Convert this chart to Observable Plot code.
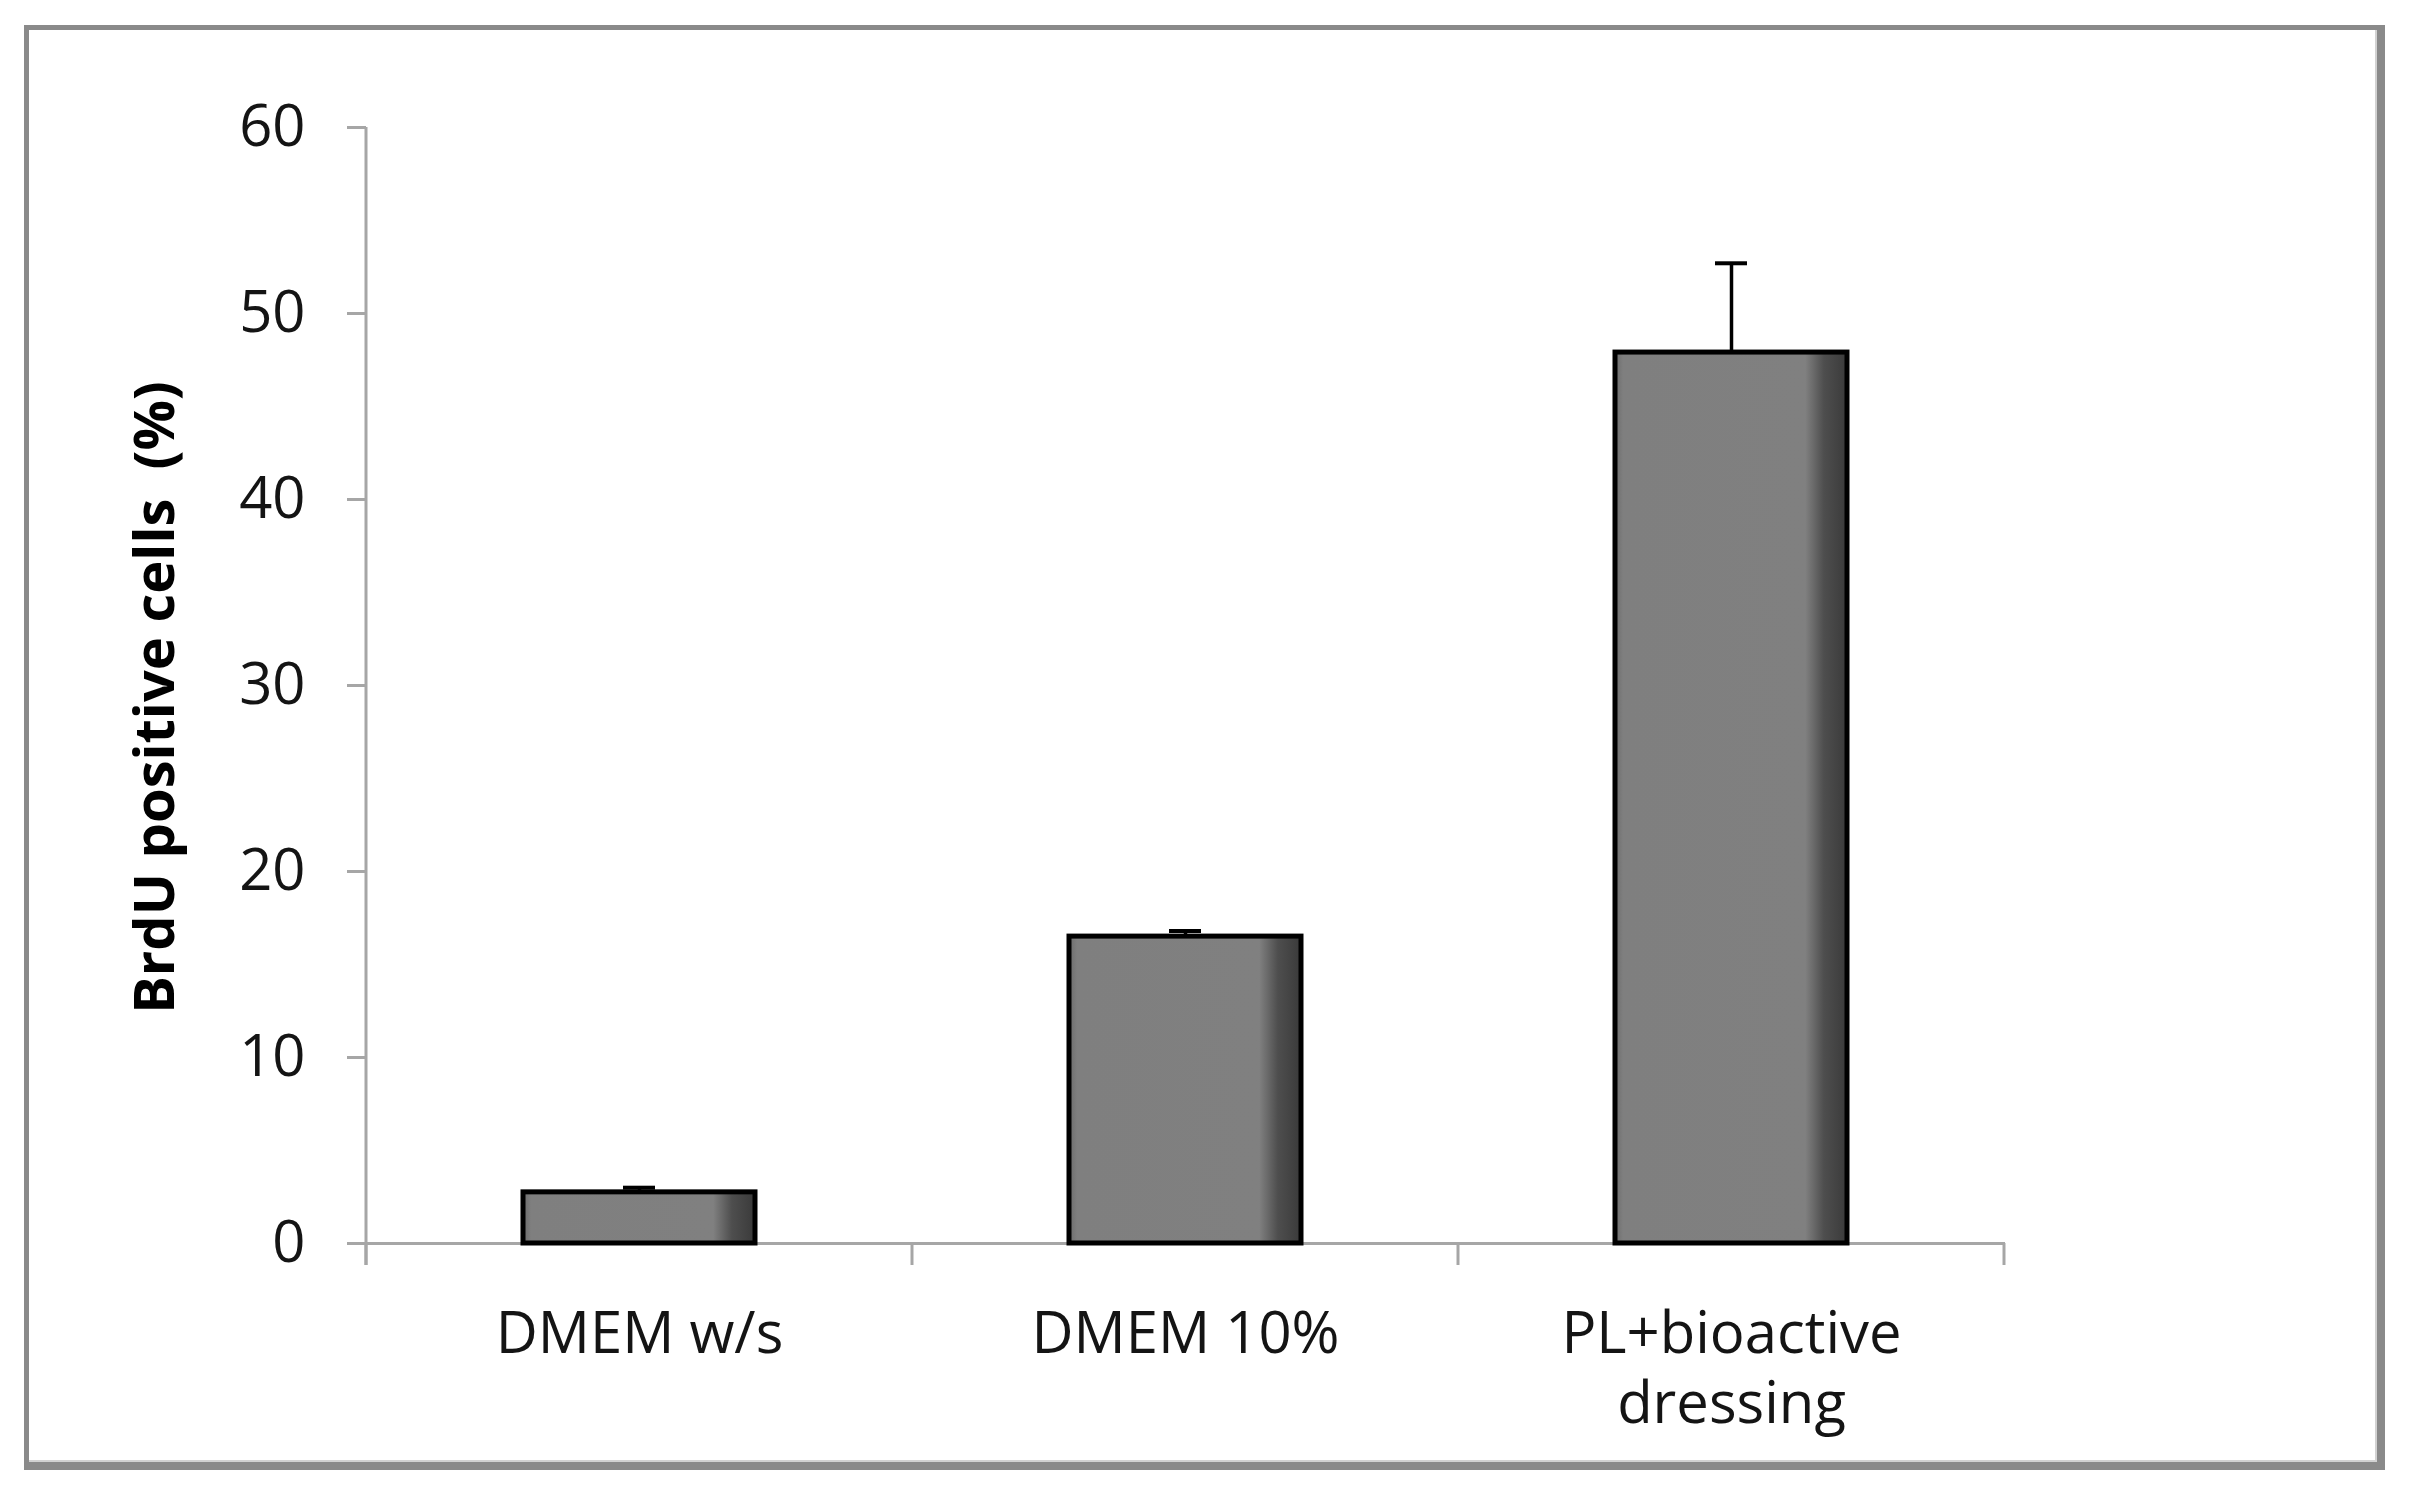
<!DOCTYPE html>
<html>
<head>
<meta charset="utf-8">
<script src="https://cdn.jsdelivr.net/npm/d3@7"></script>
<script src="https://cdn.jsdelivr.net/npm/@observablehq/plot@0.6"></script>
<style>
  html, body { margin: 0; padding: 0; background: #fff; width: 2422px; height: 1499px; overflow: hidden; }
  #wrap { position: relative; width: 2422px; height: 1499px; }
  #frame { position: absolute; left: 24px; top: 25px; width: 2361px; height: 1445px; box-sizing: border-box;
           border-style: solid; border-color: #8a8a8a; border-width: 5px 8px 8px 5px;
           box-shadow: inset -2px -2px 0 #d2d2d2; }
  #chart { position: absolute; left: 0; top: 0; }
  #chart svg text { white-space: pre; }
</style>
</head>
<body>
<div id="wrap"><div id="frame"></div><div id="chart"></div></div>
<script>
// ---- data ----
const categories = ["DMEM w/s", "DMEM 10%", "PL+bioactive\ndressing"];
const values = [2.75, 16.5, 47.9];
const errors = [0.25, 0.3, 4.8];
const yTicks = [0, 10, 20, 30, 40, 50, 60];
const yLabel = "BrdU positive cells  (%)";

const data = categories.map((c, i) => ({category: c, value: values[i], err: errors[i]}));

const axisColor = "#a6a6a6";
const textColor = "#141414";
const font = "'Open Sans', 'DejaVu Sans', sans-serif";

// gradient definition (Excel-like shaded bar)
function gradientDefs() {
  const defs = d3.create("svg:defs");
  const g = defs.append("linearGradient").attr("id", "barGrad").attr("x1", 0).attr("x2", 1).attr("y1", 0).attr("y2", 0);
  [[0, "#6c6c6c"], [0.035, "#7f7f7f"], [0.82, "#808080"], [0.9, "#4e4e4e"], [1, "#3a3a3a"]]
    .forEach(([o, c]) => g.append("stop").attr("offset", o).attr("stop-color", c));
  return defs.node();
}

// y axis line and category boundary ticks
function categoryAxisLines(index, scales) {
  const {x, y} = scales;
  const bw = x.bandwidth();
  const centers = categories.map(c => x(c) + bw / 2);
  const step = centers[1] - centers[0];
  const bounds = [centers[0] - step / 2, ...centers.map(c => c + step / 2)];
  const y0 = y(0), yTop = y(d3.max(yTicks)), tickLen = 22;
  const g = d3.create("svg:g").attr("stroke", axisColor).attr("stroke-width", 3);
  g.append("line").attr("x1", bounds[0]).attr("x2", bounds[0]).attr("y1", yTop).attr("y2", y0 + tickLen);
  bounds.forEach(b => g.append("line").attr("x1", b).attr("x2", b).attr("y1", y0).attr("y2", y0 + tickLen));
  return g.node();
}

const chart = Plot.plot({
  width: 2422,
  height: 1499,
  marginLeft: 366,
  marginRight: 417,
  marginTop: 127,
  marginBottom: 256,
  style: {fontFamily: font, background: "transparent", overflow: "visible"},
  x: {domain: categories, paddingInner: 0.575, paddingOuter: 0.2875, axis: null},
  y: {domain: [0, 60], axis: null},
  marks: [
    gradientDefs,
    Plot.axisY({ticks: yTicks, tickSize: 19, tickPadding: 42, fontSize: 58, stroke: axisColor, strokeWidth: 3, fill: textColor, label: null}),
    Plot.ruleY([0], {stroke: axisColor, strokeWidth: 3}),
    categoryAxisLines,
    Plot.barY(data, {x: "category", y: "value", fill: "url(#barGrad)", stroke: "#000", strokeWidth: 5}),
    Plot.ruleX(data, {x: "category", y1: "value", y2: d => d.value + d.err, stroke: "#000", strokeWidth: 3.5}),
    Plot.tickY(data, {x: "category", y: d => d.value + d.err, stroke: "#000", strokeWidth: 4, insetLeft: 100, insetRight: 100}),
    Plot.text(data, {x: "category", text: "category", frameAnchor: "bottom", lineAnchor: "top", dy: 60, fontSize: 58, lineHeight: 1.2, fill: textColor}),
    Plot.text([yLabel], {text: d => d, frameAnchor: "left", textAnchor: "middle", lineAnchor: "middle", rotate: -90, dx: -210, dy: 12, fontSize: 56, fontWeight: "bold", fill: "#000"})
  ]
});
document.getElementById("chart").appendChild(chart);
</script>
</body>
</html>
